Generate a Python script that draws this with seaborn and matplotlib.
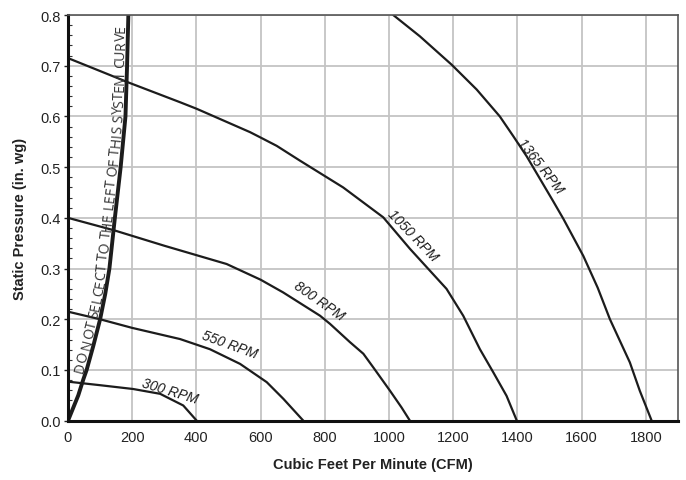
import numpy as np
import pandas as pd
import matplotlib
matplotlib.use("Agg")
from matplotlib import pyplot as plt
from matplotlib.font_manager import FontProperties
from matplotlib.ticker import MultipleLocator
import seaborn as sns

# fan curves (CFM, in. wg)
cfm_300 = [0, 100, 203, 287, 359, 401]
sp_300 = [0.077, 0.070, 0.0625, 0.053, 0.030, 0.0]

cfm_550 = [0, 100, 200, 349, 442, 536, 619, 671, 733]
sp_550 = [0.215, 0.200, 0.183, 0.161, 0.141, 0.112, 0.076, 0.043, 0.0]

cfm_800 = [0, 146, 300, 494, 600, 670, 785, 816, 878, 920, 951, 1003, 1039, 1065]
sp_800 = [0.400, 0.375, 0.345, 0.309, 0.278, 0.253, 0.207, 0.191, 0.155, 0.132, 0.105, 0.059, 0.026, 0.0]

cfm_1050 = [0, 188, 349, 401, 567, 598, 650, 722, 857, 982, 1065, 1127, 1179, 1231, 1283, 1325, 1366, 1398]
sp_1050 = [0.715, 0.667, 0.628, 0.615, 0.569, 0.559, 0.542, 0.513, 0.460, 0.401, 0.339, 0.296, 0.260,
           0.207, 0.141, 0.095, 0.049, 0.0]

cfm_1365 = [1013, 1096, 1195, 1273, 1345, 1387, 1429, 1511, 1543, 1605, 1650, 1688, 1750, 1781, 1818]
sp_1365 = [0.800, 0.758, 0.702, 0.653, 0.600, 0.561, 0.521, 0.433, 0.398, 0.325, 0.262, 0.200, 0.115,
           0.059, 0.0]

# system curve
sys_cfm = [0, 32, 48, 58, 79, 100, 116, 129, 146, 164, 179, 184, 188]
sys_sp = [0.0, 0.05, 0.082, 0.10, 0.148, 0.20, 0.25, 0.30, 0.40, 0.50, 0.60, 0.70, 0.80]

rpm_names = ['300 RPM', '550 RPM', '800 RPM', '1050 RPM', '1365 RPM']
label_x = [318, 504, 782, 1075, 1472]
label_y = [0.060, 0.150, 0.237, 0.366, 0.503]
label_rot = [-17, -20, -35, -46, -52]

x_ticks = [0, 200, 400, 600, 800, 1000, 1200, 1400, 1600, 1800]
y_ticks = [0.0, 0.1, 0.2, 0.3, 0.4, 0.5, 0.6, 0.7, 0.8]

system_note = 'DO NOT SELCECT TO THE LEFT OF THIS SYSTEM CURVE'


def build_frame():
    parts = []
    for name, xs, ys in zip(rpm_names,
                            [cfm_300, cfm_550, cfm_800, cfm_1050, cfm_1365],
                            [sp_300, sp_550, sp_800, sp_1050, sp_1365]):
        parts.append(pd.DataFrame({'cfm': xs, 'sp': ys, 'rpm': name}))
    return pd.concat(parts, ignore_index=True)


def text_along_curve(ax, xs, ys, text, start, offset, fp, color):
    """Place each character of text along a polyline, in display coords."""
    renderer = ax.figure.canvas.get_renderer()

    def width(s):
        return renderer.get_text_width_height_descent(s, fp, ismath=False)[0]

    w_h = width('H')
    pos = [0.0] + [width(text[:i] + 'H') - w_h for i in range(1, len(text) + 1)]

    pts = ax.transData.transform(np.column_stack([xs, ys]))
    seg = np.diff(pts, axis=0)
    seglen = np.hypot(seg[:, 0], seg[:, 1])
    cum = np.concatenate([[0], np.cumsum(seglen)])
    inv = ax.transData.inverted()
    for i, ch in enumerate(text):
        if ch == ' ':
            continue
        mid = start + (pos[i] + pos[i + 1]) / 2
        k = int(np.clip(np.searchsorted(cum, mid) - 1, 0, len(seg) - 1))
        t = (mid - cum[k]) / seglen[k]
        d = seg[k] / seglen[k]
        p = pts[k] + t * seg[k] + np.array([-d[1], d[0]]) * offset
        ang = np.degrees(np.arctan2(d[1], d[0]))
        x, y = inv.transform(p)
        ax.text(x, y, ch, rotation=ang, rotation_mode='anchor', ha='center',
                va='baseline', fontproperties=fp, color=color)


sns.set_style('whitegrid', {'grid.color': '#c4c4c4'})
plt.rcParams['font.family'] = ['Liberation Sans', 'DejaVu Sans']

fig = plt.figure(figsize=(6.86, 4.81), dpi=100)
ax = fig.add_axes([68 / 686, 1 - 421.7 / 481, 610 / 686, 405.7 / 481])

df = build_frame()
sns.lineplot(data=df, x='cfm', y='sp', units='rpm', estimator=None, sort=False,
             color='#1c1c1c', linewidth=1.6, ax=ax)
sns.lineplot(x=sys_cfm, y=sys_sp, sort=False, color='#1c1c1c', linewidth=2.8, ax=ax)

ax.set_xlim(0, 1900)
ax.set_ylim(0, 0.8)
ax.set_xticks(x_ticks)
ax.set_yticks(y_ticks)
ax.set_yticklabels([f'{v:.1f}' for v in y_ticks])
ax.yaxis.set_minor_locator(MultipleLocator(0.02))
ax.grid(True, which='major', linewidth=1.3, color='#c4c4c4')
ax.grid(False, which='minor')

ax.tick_params(axis='x', length=0, pad=7, labelsize=10.5, colors='#222222')
ax.tick_params(axis='y', which='major', length=3, width=1, direction='out', pad=2,
               labelsize=10.5, colors='#222222', left=True)
ax.tick_params(axis='y', which='minor', length=3, width=0.8, direction='in',
               left=True, color='#333333')

for side in ['left', 'bottom']:
    ax.spines[side].set_color('#111111')
    ax.spines[side].set_linewidth(2.2)
for side in ['top', 'right']:
    ax.spines[side].set_color('#555555')
    ax.spines[side].set_linewidth(1.2)

ax.set_xlabel('Cubic Feet Per Minute (CFM)', fontsize=10.5, fontweight='bold',
              labelpad=9, color='#222222')
ax.set_ylabel('Static Pressure (in. wg)', fontsize=10.5, fontweight='bold',
              labelpad=10, color='#222222')

for name, x, y, r in zip(rpm_names, label_x, label_y, label_rot):
    ax.text(x, y, name, rotation=r, ha='center', va='center', color='#1c1c1c',
            rotation_mode='anchor', family=['Liberation Sans', 'DejaVu Sans'],
            style='italic', size=10)

note_fp = FontProperties(family='Open Sans', size=10)
text_along_curve(ax, sys_cfm, sys_sp, system_note, start=50, offset=3.0,
                 fp=note_fp, color='#333333')

fig.savefig('out.png', dpi=100)
